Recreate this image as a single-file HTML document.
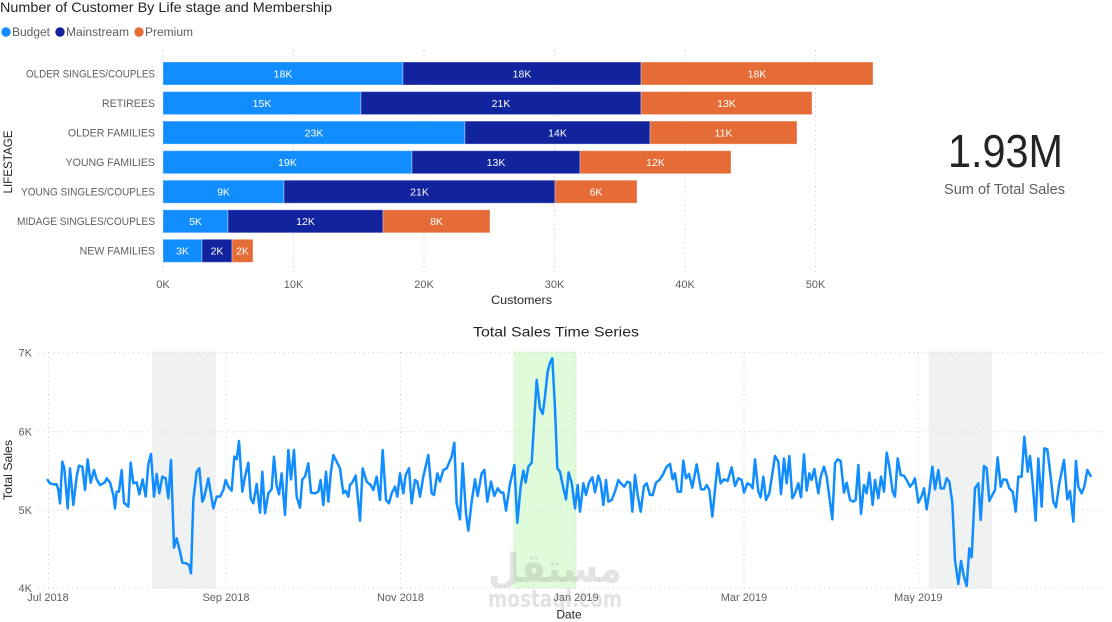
<!DOCTYPE html>
<html><head><meta charset="utf-8"><style>
html,body{margin:0;padding:0;background:#fff;}
svg{display:block;font-family:"Liberation Sans","DejaVu Sans",sans-serif;}
</style></head><body>
<svg width="1112" height="622" viewBox="0 0 1112 622" xmlns="http://www.w3.org/2000/svg">
<rect width="1112" height="622" fill="#fff"/>
<!-- Title & legend -->
<text x="0" y="12" font-size="14" fill="#252423" textLength="332" lengthAdjust="spacingAndGlyphs">Number of Customer By Life stage and Membership</text>
<circle cx="6" cy="32" r="4.7" fill="#118DFF"/>
<text x="12" y="36" font-size="11.5" fill="#605E5C" textLength="38" lengthAdjust="spacingAndGlyphs">Budget</text>
<circle cx="60" cy="32" r="4.7" fill="#12239E"/>
<text x="66" y="36" font-size="11.5" fill="#605E5C" textLength="63" lengthAdjust="spacingAndGlyphs">Mainstream</text>
<circle cx="139" cy="32" r="4.7" fill="#E66C37"/>
<text x="145" y="36" font-size="11.5" fill="#605E5C" textLength="48" lengthAdjust="spacingAndGlyphs">Premium</text>

<!-- bar gridlines -->
<g stroke="#D2D0CE" stroke-width="1" stroke-dasharray="1.2 3.5">
<line x1="163" y1="50" x2="163" y2="272"/>
<line x1="293.5" y1="50" x2="293.5" y2="272"/>
<line x1="424" y1="50" x2="424" y2="272"/>
<line x1="554.5" y1="50" x2="554.5" y2="272"/>
<line x1="685" y1="50" x2="685" y2="272"/>
<line x1="815.5" y1="50" x2="815.5" y2="272"/>
</g>
<g font-size="11" fill="#605E5C" text-anchor="middle">
<text x="163" y="288">0K</text>
<text x="293.5" y="288">10K</text>
<text x="424" y="288">20K</text>
<text x="554.5" y="288">30K</text>
<text x="685" y="288">40K</text>
<text x="815.5" y="288">50K</text>
</g>
<text x="521.5" y="304" font-size="12" fill="#252423" text-anchor="middle" textLength="61" lengthAdjust="spacingAndGlyphs">Customers</text>
<text transform="translate(12,162) rotate(-90)" font-size="12" fill="#252423" text-anchor="middle" textLength="63" lengthAdjust="spacingAndGlyphs">LIFESTAGE</text>

<!-- category labels -->
<g font-size="10.6" fill="#605E5C" text-anchor="end">
<text x="155" y="77.5" textLength="129" lengthAdjust="spacingAndGlyphs">OLDER SINGLES/COUPLES</text>
<text x="155" y="107">RETIREES</text>
<text x="155" y="136.5">OLDER FAMILIES</text>
<text x="155" y="166">YOUNG FAMILIES</text>
<text x="155" y="195.6" textLength="134" lengthAdjust="spacingAndGlyphs">YOUNG SINGLES/COUPLES</text>
<text x="155" y="225.2" textLength="138" lengthAdjust="spacingAndGlyphs">MIDAGE SINGLES/COUPLES</text>
<text x="155" y="254.7">NEW FAMILIES</text>
</g>

<!-- bars -->
<g stroke="rgba(255,255,255,0.35)" stroke-width="1">
<rect x="163" y="62" width="240" height="23" fill="#118DFF"/>
<rect x="403" y="62" width="238" height="23" fill="#12239E"/>
<rect x="641" y="62" width="232" height="23" fill="#E66C37"/>

<rect x="163" y="91.6" width="198" height="23" fill="#118DFF"/>
<rect x="361" y="91.6" width="280" height="23" fill="#12239E"/>
<rect x="641" y="91.6" width="171" height="23" fill="#E66C37"/>

<rect x="163" y="121.1" width="302" height="23" fill="#118DFF"/>
<rect x="465" y="121.1" width="185" height="23" fill="#12239E"/>
<rect x="650" y="121.1" width="147" height="23" fill="#E66C37"/>

<rect x="163" y="150.7" width="249" height="23" fill="#118DFF"/>
<rect x="412" y="150.7" width="168" height="23" fill="#12239E"/>
<rect x="580" y="150.7" width="151" height="23" fill="#E66C37"/>

<rect x="163" y="180.2" width="121" height="23" fill="#118DFF"/>
<rect x="284" y="180.2" width="271" height="23" fill="#12239E"/>
<rect x="555" y="180.2" width="82" height="23" fill="#E66C37"/>

<rect x="163" y="209.8" width="65" height="23" fill="#118DFF"/>
<rect x="228" y="209.8" width="155" height="23" fill="#12239E"/>
<rect x="383" y="209.8" width="107" height="23" fill="#E66C37"/>

<rect x="163" y="239.3" width="39" height="23" fill="#118DFF"/>
<rect x="202" y="239.3" width="30" height="23" fill="#12239E"/>
<rect x="232" y="239.3" width="21" height="23" fill="#E66C37"/>
</g>
<g font-size="10.5" fill="#fff" text-anchor="middle">
<text x="283" y="77.5">18K</text><text x="522" y="77.5">18K</text><text x="757" y="77.5">18K</text>
<text x="262" y="107">15K</text><text x="501" y="107">21K</text><text x="726.5" y="107">13K</text>
<text x="314" y="136.5">23K</text><text x="557.5" y="136.5">14K</text><text x="723.5" y="136.5">11K</text>
<text x="287.5" y="166">19K</text><text x="496" y="166">13K</text><text x="655.5" y="166">12K</text>
<text x="223.5" y="195.6">9K</text><text x="419.5" y="195.6">21K</text><text x="596" y="195.6">6K</text>
<text x="195.5" y="225.2">5K</text><text x="305.5" y="225.2">12K</text><text x="436.5" y="225.2">8K</text>
<text x="182.5" y="254.7">3K</text><text x="217" y="254.7">2K</text><text x="242.5" y="254.7">2K</text>
</g>

<!-- KPI -->
<text x="1005.5" y="167" font-size="46" fill="#252423" text-anchor="middle" textLength="115" lengthAdjust="spacingAndGlyphs">1.93M</text>
<text x="1004.5" y="194" font-size="14.3" fill="#605E5C" text-anchor="middle" textLength="121" lengthAdjust="spacingAndGlyphs">Sum of Total Sales</text>

<!-- Time series -->
<text x="556" y="336.5" font-size="14" fill="#252423" text-anchor="middle" textLength="166" lengthAdjust="spacingAndGlyphs">Total Sales Time Series</text>
<rect x="152" y="351.5" width="64" height="237" fill="#F0F1F1"/>
<rect x="513.3" y="351.5" width="63.4" height="237" fill="#DFFBDA"/>
<rect x="929" y="351.5" width="63" height="237" fill="#F0F1F1"/>
<g stroke="#D2D0CE" stroke-width="1" stroke-dasharray="1.2 3.5">
<line x1="39" y1="352.7" x2="1105" y2="352.7"/>
<line x1="39" y1="431.7" x2="1105" y2="431.7"/>
<line x1="39" y1="510" x2="1105" y2="510"/>
<line x1="39" y1="588" x2="1105" y2="588"/>
<line x1="48.5" y1="352" x2="48.5" y2="588"/>
<line x1="226" y1="352" x2="226" y2="588"/>
<line x1="400.5" y1="352" x2="400.5" y2="588"/>
<line x1="575" y1="352" x2="575" y2="588"/>
<line x1="744" y1="352" x2="744" y2="588"/>
<line x1="918.3" y1="352" x2="918.3" y2="588"/>
</g>
<g font-size="11" fill="#605E5C" text-anchor="end">
<text x="32" y="356.7">7K</text>
<text x="32" y="435.7">6K</text>
<text x="32" y="514">5K</text>
<text x="32" y="592">4K</text>
</g>
<text transform="translate(12,470) rotate(-90)" font-size="12" fill="#252423" text-anchor="middle" textLength="60" lengthAdjust="spacingAndGlyphs">Total Sales</text>
<g font-size="11" fill="#605E5C" text-anchor="middle">
<text x="48" y="601">Jul 2018</text>
<text x="226" y="601">Sep 2018</text>
<text x="400.5" y="601">Nov 2018</text>
<text x="576" y="601">Jan 2019</text>
<text x="744" y="601">Mar 2019</text>
<text x="918.3" y="601">May 2019</text>
</g>
<text x="569" y="618.5" font-size="12" fill="#252423" text-anchor="middle">Date</text>

<g fill="none" stroke="#118DFF" stroke-width="7.5" stroke-linejoin="round" stroke-linecap="round">
<polyline transform="translate(0,320) scale(0.33333)" points="143,480 150,490 160,493 170,493 175,510 180,550 187,425 193,445 203,565 210,445 220,555 230,470 237,437 247,440 255,510 263,418 272,488 282,450 290,478 300,495 315,487 320,475 330,487 340,525 345,565 350,515 357,515 365,450 372,548 385,560 392,428 400,490 410,487 418,523 428,478 437,530 445,433 453,402 462,530 470,462 478,520 487,470 497,475 505,535 513,420 522,683 530,655 540,695 547,728 558,730 567,735 573,760 580,540 590,455 598,445 607,545 612,535 625,475 640,565 650,530 660,530 670,510 677,480 685,500 695,512 703,410 710,418 717,363 727,515 735,470 745,428 752,535 760,550 770,492 780,578 787,455 795,580 805,520 815,507 822,410 830,497 837,523 845,460 855,585 865,390 873,478 882,390 890,530 900,563 907,478 915,470 925,430 933,518 945,520 955,515 962,480 970,555 978,455 985,545 992,462 1000,405 1010,425 1020,445 1030,520 1037,512 1045,530 1050,495 1057,487 1067,467 1080,602 1088,445 1100,485 1112,495"/>
<polyline transform="translate(370,320) scale(0.33333)" points="2,495 10,510 20,470 30,540 38,390 48,540 57,550 65,520 75,500 82,530 90,460 100,520 107,465 117,445 125,550 135,480 142,485 150,530 160,470 175,405 185,520 192,525 202,460 210,485 220,450 230,445 245,410 253,368 260,550 270,598 278,430 288,580 295,632 305,545 315,478 323,528 335,460 343,450 352,545 363,485 373,528 383,505 393,518 400,518 408,572 420,492 433,435 442,608 452,500 460,452 467,488 475,440 485,428 493,295 500,180 510,265 518,282 525,230 533,155 540,128 547,115 555,265 562,445 570,455 578,495 588,538 596,457 605,488 615,565 623,495 630,575 640,490 648,525 657,488 667,472 675,517 685,467 692,488 700,555 708,480 715,545 725,540 735,515 745,480 755,493 763,500 772,485 780,488 787,575 795,465 803,525 812,575 822,498 830,490 840,525 848,525 858,488 868,480 878,465 890,440 900,432 908,478 915,460 923,515 933,515 940,422 948,475 957,462 967,503 980,433 993,508 1003,508 1010,495 1018,510 1027,590 1043,430 1052,490 1062,478 1073,483 1085,442 1095,498 1105,475"/>
<polyline transform="translate(730,320) scale(0.33333)" points="25,475 35,480 42,518 52,490 62,495 68,505 75,418 85,515 92,532 100,470 108,540 118,520 128,455 135,408 145,425 153,522 162,415 170,490 178,408 187,535 195,520 205,490 213,532 222,403 230,512 238,460 245,480 253,447 265,520 272,470 282,440 290,470 298,530 307,598 315,430 323,418 332,423 342,518 350,488 360,540 370,545 377,540 385,435 393,582 402,495 410,520 418,458 428,555 435,480 445,535 453,470 462,515 470,398 478,440 488,515 495,530 503,415 512,465 522,467 530,480 540,500 548,490 555,475 565,548 575,528 582,505 590,568 598,515 607,440 615,508 625,450 632,505 642,505 650,475 658,485 667,548 675,720 685,792 693,723 702,770 710,798 718,685 725,712 735,505 745,490 752,600 762,438 770,445 778,543 787,525 795,510 803,412 812,500 820,478 830,480 838,505 848,515 857,575 865,470 875,470 883,350 893,455 900,408 907,478 917,602 925,415 935,560 943,385 952,388 962,470 970,545 978,562 988,490 1002,420 1012,538 1020,513 1030,605 1038,423 1045,500 1055,520 1063,500 1072,450 1082,468"/>
</g>

<!-- watermark -->
<g fill="#9a9a9a" fill-opacity="0.28" font-weight="bold" font-family="'DejaVu Sans',sans-serif">
<text x="555" y="582" font-size="40" text-anchor="middle" textLength="134" lengthAdjust="spacingAndGlyphs">مستقل</text>
<text x="555" y="607" font-size="24" text-anchor="middle" textLength="134" lengthAdjust="spacingAndGlyphs">mostaql.com</text>
</g>
</svg>
</body></html>
